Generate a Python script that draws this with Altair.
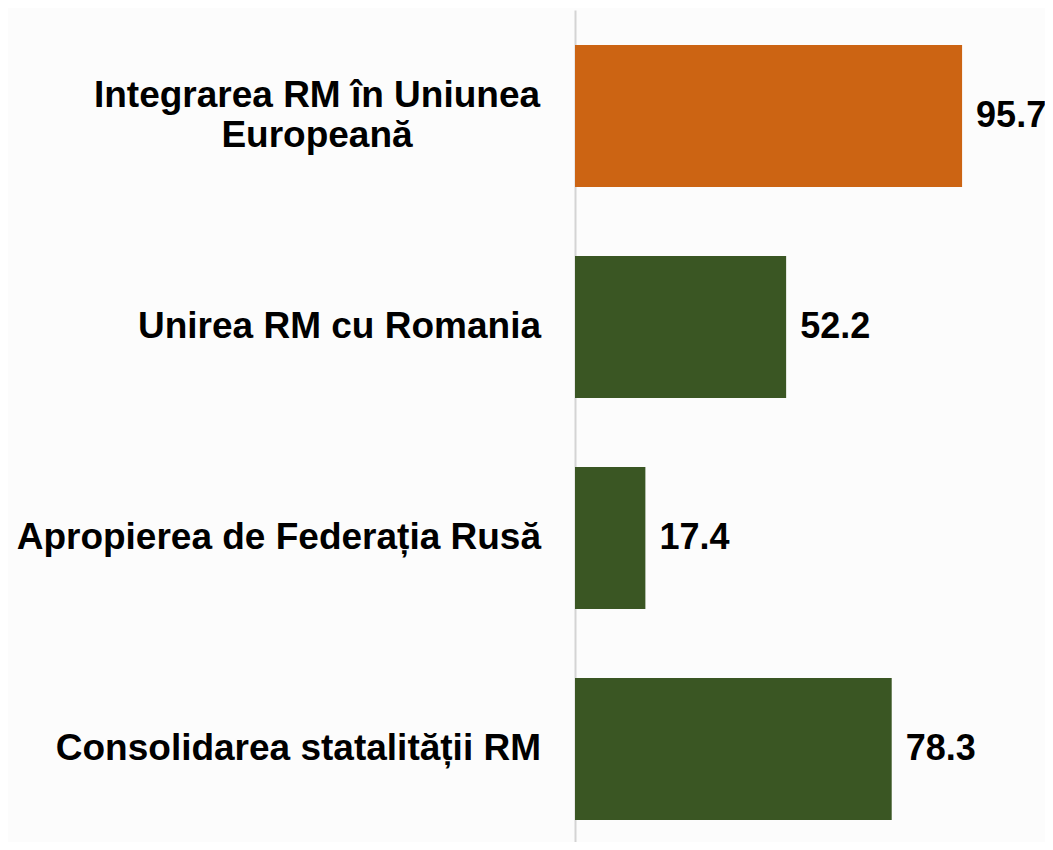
import altair as alt
import pandas as pd

categories = [
    "Integrarea RM în Uniunea\nEuropeană",
    "Unirea RM cu Romania",
    "Apropierea de Federația Rusă",
    "Consolidarea statalității RM",
]
values = [95.7, 52.2, 17.4, 78.3]
colors = ["#CC6413", "#3A5623", "#3A5623", "#3A5623"]

df = pd.DataFrame({"cat": categories, "val": values, "col": colors})
df["multi"] = df["cat"].str.contains("\n")

FONT = "Liberation Sans"

y = alt.Y(
    "cat:N",
    sort=categories,
    scale=alt.Scale(paddingInner=0.327, paddingOuter=0.135, align=0.614),
    axis=alt.Axis(labels=False, ticks=False, title=None, domain=True,
                  domainColor="#d4d4d4", domainWidth=2, grid=False),
)
x = alt.X("val:Q", scale=alt.Scale(domain=[0, 116.2], nice=False),
          axis=None)

bars = alt.Chart(df).mark_bar().encode(
    x=x, y=y, color=alt.Color("col:N", scale=None)
)

vals = alt.Chart(df).mark_text(
    align="left", baseline="middle", dx=14, font=FONT, fontSize=36,
    fontWeight="bold", color="#000000"
).encode(x=x, y=alt.Y("cat:N", sort=categories), text=alt.Text("val:Q", format=".1f"))

labels_single = alt.Chart(df).transform_filter(
    "!datum.multi"
).mark_text(
    align="right", baseline="middle", font=FONT, fontSize=37,
    fontWeight="bold", color="#000000"
).encode(x=alt.value(-34), y=alt.Y("cat:N", sort=categories), text="cat:N")

labels_multi = alt.Chart(df).transform_filter(
    "datum.multi"
).mark_text(
    align="center", baseline="middle", font=FONT, fontSize=37,
    fontWeight="bold", color="#000000", lineBreak="\n", lineHeight=40, dy=-20
).encode(x=alt.value(-258), y=alt.Y("cat:N", sort=categories), text="cat:N")

chart = alt.layer(bars, vals, labels_single, labels_multi).properties(
    width=470, height=832,
    autosize=alt.AutoSizeParams(type="none"),
    padding={"left": 567, "top": 2, "right": 0, "bottom": 0},
    background="#fcfcfc",
).configure_view(stroke=None)

chart.save("out.html", embed_options={"renderer": "svg", "actions": False})
